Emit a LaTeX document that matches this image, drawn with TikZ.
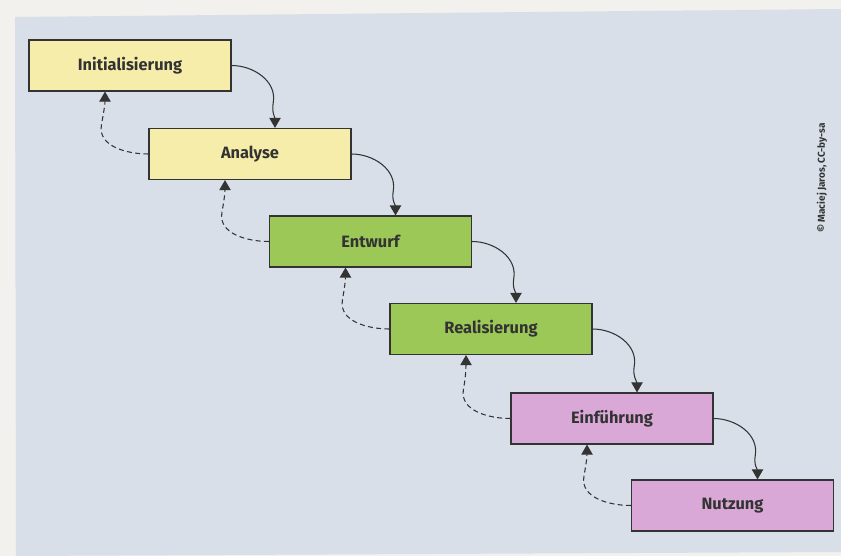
\documentclass[tikz,border=0pt]{standalone}
\usepackage{fontspec}
\setmainfont{Fira Sans}
\usepackage{xcolor}
\usetikzlibrary{arrows.meta,calc}

\definecolor{paper}{HTML}{F3F1ED}
\definecolor{panel}{HTML}{D8DFE8}
\definecolor{lineg}{HTML}{333333}
\definecolor{phyellow}{HTML}{F6EDAA}
\definecolor{phgreen}{HTML}{9CC858}
\definecolor{phpink}{HTML}{D9A8D6}

\begin{document}
\begin{tikzpicture}[
  phase/.style={rectangle, draw=lineg, line width=1pt, minimum width=6.06cm,
    minimum height=1.53cm, inner sep=0pt, font=\fontsize{14}{17}\selectfont\bfseries, text=lineg},
  fwd/.style={-{Triangle[width=3.4mm,length=3mm]}, draw=lineg, line width=0.9pt},
  back/.style={-{Triangle[width=3.4mm,length=3mm]}, draw=lineg, line width=0.9pt,
    dash pattern=on 1.5mm off 1mm},
]
\useasboundingbox (0,0) rectangle (25.23,16.68);
\fill[paper] (0,0) rectangle (25.23,16.68);
\fill[panel] (0.45,16.17) -- (25.23,16.41) -- (25.23,0.12) -- (0.48,0) -- cycle;

% Phasen
\node[phase, fill=phyellow] (init) at (3.9, 14.715) {Initialisierung};
\node[phase, fill=phyellow] (ana) at (7.5, 12.06) {Analyse};
\node[phase, fill=phgreen] (entw) at (11.115, 9.435) {Entwurf};
\node[phase, fill=phgreen] (real) at (14.73, 6.81) {Realisierung};
\node[phase, fill=phpink] (einf) at (18.36, 4.125) {Einführung};
\node[phase, fill=phpink] (nutz) at (21.975, 1.515) {Nutzung};

% weiter
\draw[fwd] (init.east) to[out=0,in=80] ++(1.25,-1.11) to[out=-100,in=90] ($(ana.north)+(0.75,0)$);
\draw[fwd] (ana.east) to[out=0,in=80] ++(1.25,-1.11) to[out=-100,in=90] ($(entw.north)+(0.75,0)$);
\draw[fwd] (entw.east) to[out=0,in=80] ++(1.25,-1.11) to[out=-100,in=90] ($(real.north)+(0.75,0)$);
\draw[fwd] (real.east) to[out=0,in=80] ++(1.25,-1.11) to[out=-100,in=90] ($(einf.north)+(0.75,0)$);
\draw[fwd] (einf.east) to[out=0,in=80] ++(1.25,-1.11) to[out=-100,in=90] ($(nutz.north)+(0.75,0)$);

% zurueck
\draw[back] (ana.west) to[out=180,in=-100] ++(-1.41,0.87) to[out=80,in=-90] ($(init.south)+(-0.75,0)$);
\draw[back] (entw.west) to[out=180,in=-100] ++(-1.41,0.87) to[out=80,in=-90] ($(ana.south)+(-0.75,0)$);
\draw[back] (real.west) to[out=180,in=-100] ++(-1.41,0.87) to[out=80,in=-90] ($(entw.south)+(-0.75,0)$);
\draw[back] (einf.west) to[out=180,in=-100] ++(-1.41,0.87) to[out=80,in=-90] ($(real.south)+(-0.75,0)$);
\draw[back] (nutz.west) to[out=180,in=-100] ++(-1.41,0.87) to[out=80,in=-90] ($(einf.south)+(-0.75,0)$);

\node[rotate=90, font=\fontsize{8.5}{10}\selectfont\bfseries, text=lineg] (credit) at (24.66, 11.34) {© Maciej Jaros, CC-by-sa};
\end{tikzpicture}
\end{document}
